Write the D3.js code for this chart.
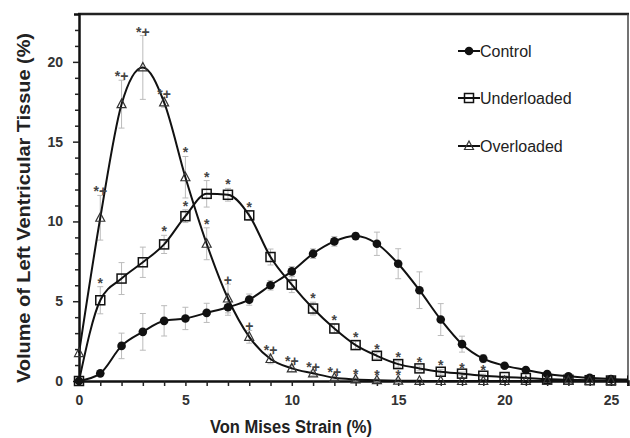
<!DOCTYPE html>
<html>
<head>
<meta charset="utf-8">
<script src="https://cdn.jsdelivr.net/npm/d3@7"></script>
<style>
  body { margin: 0; background: #fff; }
  text { font-family: "Liberation Sans", Arial, sans-serif; }
</style>
</head>
<body>
<div id="container"></div>
<script>
// ------ Data ------
const strain = d3.range(0, 27);

const control    = [0, 0.48, 2.2, 3.08, 3.77, 3.92, 4.27, 4.62, 5.1, 6.0, 6.87, 7.98, 8.75, 9.08, 8.6, 7.35, 5.69, 3.85, 2.31, 1.4, 0.96, 0.69, 0.44, 0.3, 0.2, 0.12, 0.08];
const controlErr = [0, 0.1, 0.8, 1.15, 0.95, 0.7, 0.6, 0.5, 0.35, 0.3, 0.3, 0.3, 0.3, 0.2, 0.73, 0.94, 1.15, 1.0, 0.5, 0.25, 0.15, 0.1, 0.1, 0.05, 0.05, 0.05, 0];

const underloaded    = [0, 5.06, 6.42, 7.44, 8.56, 10.33, 11.73, 11.67, 10.38, 7.77, 6.04, 4.54, 3.29, 2.25, 1.58, 1.06, 0.79, 0.58, 0.46, 0.33, 0.25, 0.19, 0.12, 0.08, 0.05, 0.03, 0.02];
const underloadedErr = [0, 0.85, 1.0, 0.95, 0.57, 0.4, 0.83, 0.4, 0.3, 0.5, 0.5, 0.4, 0.3, 0.25, 0.2, 0.2, 0.15, 0.15, 0.1, 0.1, 0.1, 0.05, 0.05, 0.05, 0, 0, 0];
const underloadedSig = ["", "*", "", "", "*", "*", "*", "*", "*", "", "", "*", "*", "*", "*", "*", "*", "*", "*", "*", "", "", "", "", "", "", ""];

const overloaded    = [1.75, 10.23, 17.35, 19.65, 17.46, 12.77, 8.6, 5.17, 2.77, 1.38, 0.79, 0.48, 0.2, 0.1, 0.05, 0.02, 0.01, 0, 0, 0, 0, 0, 0, 0, 0, 0, 0];
const overloadedErr = [0, 1.4, 1.5, 2.0, 0.3, 1.3, 1.0, 0.9, 0.4, 0.3, 0.2, 0.15, 0.1, 0.1, 0.1, 0.1, 0, 0, 0, 0, 0, 0, 0, 0, 0, 0, 0];
const overloadedSig = ["", "*+", "*+", "*+", "*+", "*", "*", "+", "+", "*+", "*+", "*+", "*+", "*", "*", "*", "", "", "", "", "", "", "", "", "", "", ""];

const xTicks = d3.range(0, 26);
const yTicks = d3.range(0, 23);
const seriesNames = ["Control", "Underloaded", "Overloaded"];

// ------ Global Values ------
const width = 630,
  height = 438;

const svg = d3.select('#container').append('svg')
  .attr('width', width)
  .attr('height', height);

const x = d3.scaleLinear().domain([0, 25.8]).range([79, 628]);
const y = d3.scaleLinear().domain([0, 23]).range([381, 14]);

svg.append('clipPath').attr('id', 'plot')
  .append('rect').attr('x', 72).attr('y', 0).attr('width', 556).attr('height', 390);

// frame (top + right)
svg.append('line').attr('x1', 78).attr('x2', 629).attr('y1', 14).attr('y2', 14)
  .attr('stroke', '#222').attr('stroke-width', 2.5);
svg.append('line').attr('x1', 628).attr('x2', 628).attr('y1', 14).attr('y2', 382)
  .attr('stroke', '#444').attr('stroke-width', 1.5);

// axes
const xAxis = svg.append('g').attr('transform', 'translate(0,381)')
  .call(d3.axisBottom(x).tickValues(xTicks).tickSize(5).tickPadding(9)
    .tickFormat(d => d % 5 === 0 ? d : ''));
const yAxis = svg.append('g').attr('transform', 'translate(79,0)')
  .call(d3.axisLeft(y).tickValues(yTicks).tickSize(5).tickPadding(11)
    .tickFormat(d => d % 5 === 0 ? d : ''));

[xAxis, yAxis].forEach(a => {
  a.select('.domain').attr('stroke', '#111').attr('stroke-width', 2.5);
  a.selectAll('.tick line').attr('stroke', '#222').attr('stroke-width', 1.5);
  a.selectAll('.tick text').attr('fill', '#333')
    .style('font-size', '14px').style('font-weight', 'bold');
});
yAxis.selectAll('.tick line').attr('x2', d => d % 5 === 0 ? -6 : -4);

svg.append('text').attr('x', 291).attr('y', 433)
  .attr('text-anchor', 'middle').attr('fill', '#222')
  .attr('textLength', 162).attr('lengthAdjust', 'spacingAndGlyphs')
  .style('font-size', '17.5px').style('font-weight', 'bold')
  .text('Von Mises Strain (%)');

svg.append('text').attr('transform', 'translate(30,208) rotate(-90)')
  .attr('text-anchor', 'middle').attr('fill', '#222')
  .attr('textLength', 350).attr('lengthAdjust', 'spacingAndGlyphs')
  .style('font-size', '18px').style('font-weight', 'bold')
  .text('Volume of Left Ventricular Tissue (%)');

// ------ Series ------
const series = [
  { name: seriesNames[0], vals: control, err: controlErr, sig: null, shape: 'circle' },
  { name: seriesNames[1], vals: underloaded, err: underloadedErr, sig: underloadedSig, shape: 'square' },
  { name: seriesNames[2], vals: overloaded, err: overloadedErr, sig: overloadedSig, shape: 'triangle' }
];

const plot = svg.append('g').attr('clip-path', 'url(#plot)');

// error bars
series.forEach(s => {
  const g = plot.append('g').attr('class', 'err');
  strain.forEach((sx, i) => {
    if (!s.err[i]) return;
    const cx = x(sx), top = y(s.vals[i] + s.err[i]), bot = y(s.vals[i] - s.err[i]);
    g.append('line').attr('x1', cx).attr('x2', cx).attr('y1', top).attr('y2', bot);
    g.append('line').attr('x1', cx - 3).attr('x2', cx + 3).attr('y1', top).attr('y2', top);
    g.append('line').attr('x1', cx - 3).attr('x2', cx + 3).attr('y1', bot).attr('y2', bot);
  });
  g.selectAll('line').attr('stroke', '#bbb').attr('stroke-width', 1);
});

const line = d3.line().x((d, i) => x(strain[i])).y(d => y(d)).curve(d3.curveMonotoneX);

series.forEach(s => {
  plot.append('path').datum(s.vals)
    .attr('d', line)
    .attr('fill', 'none').attr('stroke', '#111').attr('stroke-width', 2);
});

function drawMarker(g, shape, cx, cy) {
  if (shape === 'circle') {
    g.append('circle').attr('cx', cx).attr('cy', cy).attr('r', 4.3).attr('fill', '#111');
  } else if (shape === 'square') {
    g.append('rect').attr('x', cx - 4.5).attr('y', cy - 4.5).attr('width', 9).attr('height', 9)
      .attr('fill', 'none').attr('stroke', '#111').attr('stroke-width', 1.5);
  } else {
    g.append('path').attr('d', `M${cx},${cy - 5}L${cx + 4.5},${cy + 3.5}L${cx - 4.5},${cy + 3.5}Z`)
      .attr('fill', 'none').attr('stroke', '#333').attr('stroke-width', 1.2);
  }
}

series.forEach(s => {
  const g = plot.append('g');
  strain.forEach((sx, i) => drawMarker(g, s.shape, x(sx), y(s.vals[i])));
});

// significance markers
series.forEach(s => {
  if (!s.sig) return;
  strain.forEach((sx, i) => {
    if (!s.sig[i]) return;
    svg.append('text')
      .attr('x', x(sx)).attr('y', y(s.vals[i] + s.err[i]) + 1)
      .attr('text-anchor', 'middle').attr('fill', '#444')
      .style('font-size', '14px').style('font-weight', 'bold')
      .text(s.sig[i]);
  });
});

// ------ Legend ------
const legendY = [51, 98, 146];
series.forEach((s, k) => {
  const g = svg.append('g');
  g.append('line').attr('x1', 458).attr('x2', 480).attr('y1', legendY[k]).attr('y2', legendY[k])
    .attr('stroke', '#111').attr('stroke-width', 2);
  drawMarker(g, s.shape, 469, legendY[k]);
  g.append('text').attr('x', 480).attr('y', legendY[k] + 6)
    .attr('fill', '#222').style('font-size', '16px')
    .text(s.name);
});
</script>
</body>
</html>
